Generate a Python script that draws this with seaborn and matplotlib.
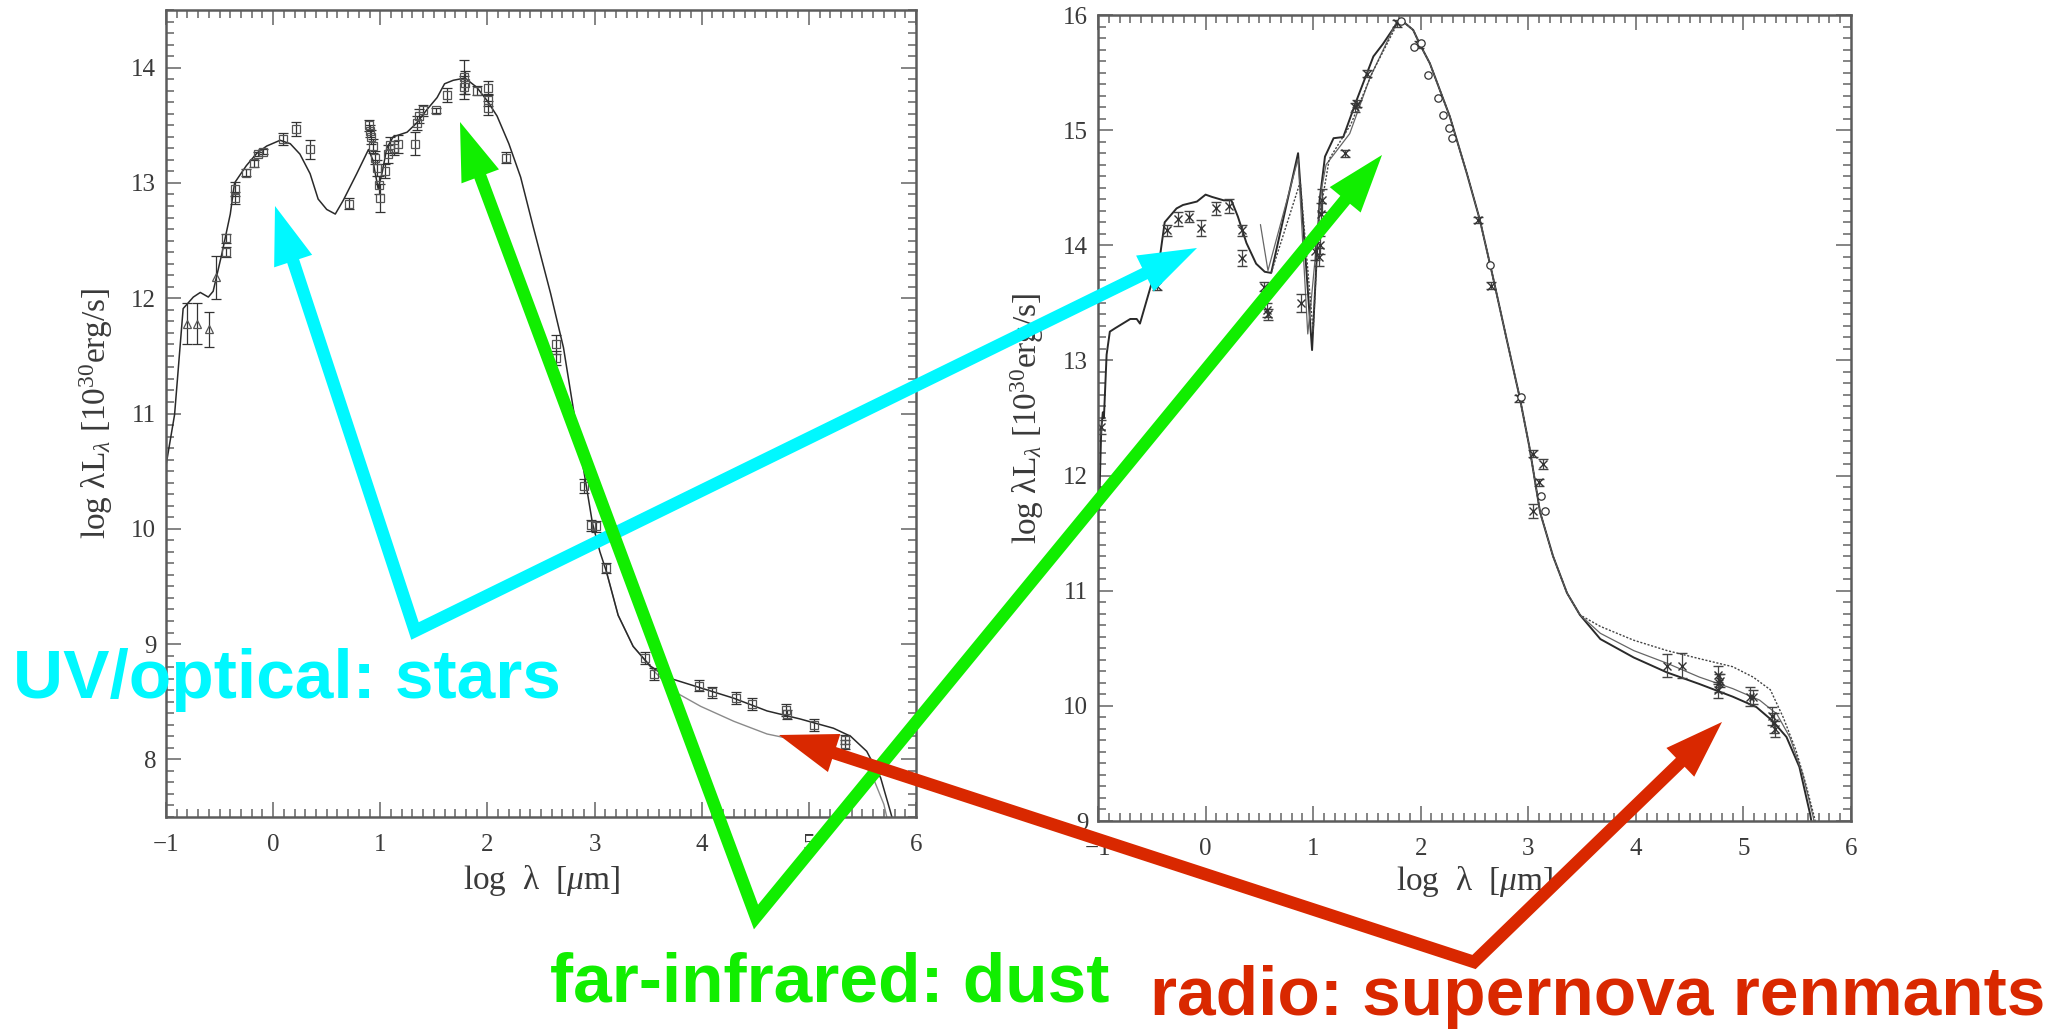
import matplotlib
matplotlib.use("Agg")
import matplotlib.pyplot as plt
from matplotlib.ticker import MultipleLocator
from matplotlib.patches import Polygon
from matplotlib.lines import Line2D
import numpy as np
import pandas as pd
import seaborn as sns

sns.set_style("ticks")
plt.rcParams["font.family"] = ["Liberation Serif", "DejaVu Serif"]
plt.rcParams["mathtext.fontset"] = "custom"
plt.rcParams["mathtext.rm"] = "Liberation Serif"
plt.rcParams["mathtext.it"] = "Liberation Serif:italic"
plt.rcParams["mathtext.bf"] = "Liberation Serif:bold"

# ---------------- left galaxy: model SED ----------------
left_model_x = [-1.0, -0.92, -0.84, -0.745, -0.68, -0.605, -0.56, -0.48, -0.40, -0.36, -0.25,
                -0.15, -0.06, 0.065, 0.16, 0.25, 0.345, 0.42, 0.50, 0.58, 0.655, 0.78, 0.89,
                0.93, 0.98, 1.02, 1.06, 1.12, 1.25, 1.34, 1.43, 1.53, 1.60, 1.68, 1.79, 1.90,
                2.0, 2.09, 2.20, 2.31, 2.43, 2.59, 2.71, 2.80, 2.90, 2.98, 3.05, 3.11, 3.22,
                3.36, 3.52, 3.68, 3.99, 4.30, 4.61, 4.92, 5.23, 5.39, 5.54, 5.67, 5.76, 5.79]
left_model_y = [10.55, 10.99, 11.91, 12.01, 12.05, 12.01, 12.06, 12.38, 12.73, 13.00, 13.15,
                13.26, 13.32, 13.37, 13.34, 13.25, 13.08, 12.86, 12.77, 12.73, 12.85, 13.08, 13.29,
                13.20, 12.95, 13.10, 13.30, 13.40, 13.44, 13.52, 13.63, 13.74, 13.86, 13.89, 13.91, 13.83,
                13.71, 13.58, 13.34, 13.05, 12.61, 12.04, 11.57, 11.05, 10.50, 10.05, 9.80, 9.63, 9.25,
                8.98, 8.81, 8.71, 8.62, 8.53, 8.42, 8.35, 8.27, 8.20, 8.07, 7.84, 7.55, 7.45]
# second model, diverging in the radio
left_alt_x = [3.11, 3.22, 3.36, 3.55, 3.74, 3.99, 4.30, 4.61, 4.92, 5.23, 5.48, 5.60, 5.70, 5.74]
left_alt_y = [9.63, 9.25, 8.98, 8.77, 8.59, 8.46, 8.33, 8.22, 8.16, 8.10, 8.01, 7.84, 7.61, 7.45]

# photometry (squares) and UV points (triangles)
left_sq_x = [-0.44, -0.44, -0.36, -0.36, -0.25, -0.18, -0.14, -0.09, 0.095, 0.21, 0.345, 0.71,
             0.89, 0.90, 0.91, 0.93, 0.95, 0.97, 0.99, 1.00, 1.04, 1.07, 1.09, 1.13, 1.17, 1.32,
             1.34, 1.36, 1.40, 1.52, 1.62, 1.78, 1.78, 1.79, 1.90, 2.01, 2.01, 2.01, 2.17, 2.64,
             2.64, 2.90, 2.97, 3.01, 3.11, 3.47, 3.55, 3.97, 4.10, 4.32, 4.47, 4.79, 4.80, 5.05,
             5.34, 5.34]
left_sq_y = [12.52, 12.40, 12.95, 12.87, 13.09, 13.17, 13.25, 13.27, 13.38, 13.47, 13.29, 12.82,
             13.50, 13.45, 13.40, 13.32, 13.22, 13.13, 12.98, 12.87, 13.10, 13.25, 13.33, 13.30, 13.34, 13.34,
             13.52, 13.58, 13.63, 13.63, 13.76, 13.92, 13.83, 13.87, 13.80, 13.82, 13.72, 13.65, 13.22, 11.60,
             11.48, 10.37, 10.03, 10.02, 9.66, 8.88, 8.74, 8.64, 8.58, 8.53, 8.48, 8.43, 8.39, 8.30,
             8.17, 8.13]
left_sq_err = [0.04, 0.04, 0.06, 0.05, 0.03, 0.03, 0.02, 0.02, 0.05, 0.06, 0.08, 0.05,
               0.05, 0.05, 0.06, 0.06, 0.06, 0.07, 0.08, 0.12, 0.06, 0.08, 0.07, 0.06, 0.08, 0.10,
               0.06, 0.06, 0.05, 0.02, 0.06, 0.15, 0.10, 0.10, 0.04, 0.06, 0.05, 0.06, 0.05, 0.08,
               0.06, 0.06, 0.05, 0.05, 0.04, 0.05, 0.05, 0.05, 0.05, 0.05, 0.05, 0.05, 0.04, 0.05,
               0.04, 0.04]
left_tri_x = [-0.80, -0.71, -0.60, -0.53]
left_tri_y = [11.78, 11.78, 11.73, 12.18]
left_tri_err = [0.18, 0.18, 0.15, 0.19]

# ---------------- right galaxy: three model SEDs ----------------
right_uv_x = [-0.99, -0.97, -0.955, -0.945, -0.92, -0.89, -0.84, -0.77, -0.70, -0.64, -0.61,
              -0.52, -0.42, -0.38, -0.27, -0.21, -0.08, 0.0, 0.06, 0.17, 0.24, 0.30, 0.38,
              0.47, 0.55, 0.61]
right_uv_y = [11.70, 12.40, 12.55, 12.50, 13.05, 13.25, 13.28, 13.32, 13.36, 13.36, 13.32,
              13.61, 13.93, 14.20, 14.32, 14.35, 14.38, 14.44, 14.42, 14.39, 14.39, 14.25, 14.02,
              13.84, 13.77, 13.76]
right_mir_a_x = [0.61, 0.86, 0.99, 1.06, 1.11, 1.19, 1.28, 1.40, 1.56, 1.65, 1.78, 1.84]
right_mir_a_y = [13.76, 14.80, 13.09, 14.39, 14.77, 14.93, 14.94, 15.25, 15.64, 15.75, 15.93, 15.94]
right_mir_b_x = [0.51, 0.58, 0.86, 0.95, 0.98, 1.08, 1.12, 1.34, 1.53, 1.78, 1.84]
right_mir_b_y = [14.18, 13.78, 14.75, 13.23, 13.50, 14.50, 14.70, 14.97, 15.46, 15.95, 15.94]
right_mir_c_x = [0.61, 0.88, 1.00, 1.05, 1.15, 1.35, 1.55, 1.78, 1.84]
right_mir_c_y = [13.76, 14.55, 13.25, 14.20, 14.75, 15.05, 15.50, 15.92, 15.94]
right_fir_x = [1.84, 1.93, 1.99, 2.085, 2.27, 2.43, 2.55, 2.67, 2.80, 2.92, 3.01, 3.11,
               3.23, 3.36, 3.48]
right_fir_y = [15.94, 15.87, 15.75, 15.58, 15.12, 14.62, 14.22, 13.73, 13.18, 12.68, 12.25, 11.68,
               11.30, 10.98, 10.79]
right_radio_a_x = [3.48, 3.67, 3.98, 4.29, 4.59, 4.90, 5.12, 5.27, 5.40, 5.52, 5.62, 5.65]
right_radio_a_y = [10.79, 10.58, 10.42, 10.29, 10.19, 10.08, 9.99, 9.87, 9.73, 9.47, 9.06, 8.90]
right_radio_b_x = [3.48, 3.67, 3.98, 4.29, 4.59, 4.90, 5.15, 5.31, 5.43, 5.55, 5.65, 5.67]
right_radio_b_y = [10.79, 10.63, 10.48, 10.37, 10.25, 10.15, 10.05, 9.93, 9.73, 9.41, 9.03, 8.90]
right_radio_c_x = [3.48, 3.67, 3.98, 4.29, 4.59, 4.90, 5.09, 5.25, 5.37, 5.49, 5.58, 5.66, 5.69]
right_radio_c_y = [10.80, 10.69, 10.57, 10.48, 10.41, 10.34, 10.25, 10.14, 9.90, 9.61, 9.32, 9.03, 8.90]

# observed fluxes (crosses with errors) and far-IR points (open circles)
right_obs_x = [-0.97, -0.455, -0.36, -0.255, -0.155, -0.04, 0.10, 0.22, 0.34, 0.335, 0.54, 0.57,
               0.58, 0.89, 1.02, 1.05, 1.06, 1.07, 1.08, 1.30, 1.39, 1.41, 1.50, 1.78, 1.98,
               2.53, 2.65, 2.91, 3.04, 3.10, 3.14, 3.04, 4.29, 4.43, 4.76, 4.77, 4.76, 4.78,
               5.06, 5.09, 5.27, 5.28, 5.29]
right_obs_y = [12.42, 13.65, 14.13, 14.23, 14.25, 14.15, 14.32, 14.34, 14.13, 13.89, 13.64, 13.44,
               13.40, 13.50, 13.95, 13.90, 14.00, 14.27, 14.39, 14.80, 15.20, 15.23, 15.49, 15.93, 15.74,
               14.22, 13.65, 12.67, 12.19, 11.94, 12.10, 11.69, 10.35, 10.35, 10.27, 10.20, 10.14, 10.22,
               10.08, 10.08, 9.91, 9.85, 9.80]
right_obs_err = [0.06, 0.04, 0.05, 0.06, 0.05, 0.07, 0.06, 0.06, 0.05, 0.07, 0.04, 0.06,
                 0.05, 0.08, 0.08, 0.08, 0.08, 0.10, 0.10, 0.03, 0.04, 0.03, 0.03, 0.03, 0.03,
                 0.03, 0.03, 0.03, 0.03, 0.03, 0.04, 0.06, 0.10, 0.11, 0.08, 0.08, 0.07, 0.06,
                 0.08, 0.06, 0.08, 0.09, 0.07]
right_circ_x = [1.82, 1.94, 2.00, 2.07, 2.16, 2.21, 2.26, 2.29, 2.64, 2.93, 3.12, 3.16]
right_circ_y = [15.95, 15.72, 15.76, 15.48, 15.28, 15.13, 15.02, 14.93, 13.83, 12.68, 11.82, 11.69]

x_ticks = [-1, 0, 1, 2, 3, 4, 5, 6]
left_yticks = [8, 9, 10, 11, 12, 13, 14]
right_yticks = [9, 10, 11, 12, 13, 14, 15, 16]
xlabel = r"log  λ  [$\mu$m]"
ylabel = r"log λL$_\lambda$ [10$^{30}$erg/s]"

# ---------------- annotation arrows (figure pixels, y downward) ----------------
cyan_path = [(275, 206), (415, 631), (1197, 248)]
green_path = [(460, 122), (756, 917), (1382, 155)]
red_path = [(779, 735), (1474, 962), (1722, 722)]
labels = [("UV/optical: stars", 13, 698, "#00F8FF"),
          ("far-infrared: dust", 550, 1001, "#11EE00"),
          ("radio: supernova renmants", 1150, 1015, "#D92800")]

INK = "#2a2a2a"
FRAME = "#5c5c5c"
TEXT = "#3a3a3a"

W, H = 2054, 1036
fig = plt.figure(figsize=(W / 100, H / 100), dpi=100)
fig.patch.set_facecolor("white")


def px_axes(left, top, right, bottom):
    return fig.add_axes([left / W, 1 - bottom / H, (right - left) / W, (bottom - top) / H])


def curve(ax, x, y, color=INK, lw=1.1, ls="-"):
    df = pd.DataFrame({"x": x, "y": y})
    sns.lineplot(data=df, x="x", y="y", ax=ax, color=color, lw=lw, linestyle=ls,
                 sort=False, estimator=None, legend=False)


def style(ax, ylim, yticks):
    ax.set_xlim(-1, 6)
    ax.set_ylim(*ylim)
    ax.set_xticks(x_ticks)
    ax.set_yticks(yticks)
    ax.xaxis.set_minor_locator(MultipleLocator(0.1))
    ax.yaxis.set_minor_locator(MultipleLocator(0.1))
    ax.tick_params(which="both", direction="in", top=True, right=True,
                   color="#707070", width=1.2, labelsize=18, labelcolor=TEXT)
    ax.tick_params(which="major", length=11)
    ax.tick_params(which="minor", length=6)
    ax.tick_params(axis="x", which="major", pad=12)
    ax.tick_params(axis="y", which="major", pad=7)
    for s in ax.spines.values():
        s.set_color(FRAME)
        s.set_linewidth(1.8)
    ax.set_xlabel(xlabel, fontsize=24, color=TEXT)
    ax.set_ylabel(ylabel, fontsize=24, color=TEXT)
    ax.xaxis.label.set_verticalalignment("center")
    ax.yaxis.label.set_verticalalignment("center")


# left panel
ax_l = px_axes(166, 10, 916, 817)
curve(ax_l, left_alt_x, left_alt_y, color="#8a8a8a", lw=1.0)
curve(ax_l, left_model_x, left_model_y)
ax_l.errorbar(left_sq_x, left_sq_y, yerr=left_sq_err, fmt="s", ms=5.5, mfc="none", mec="#555",
              mew=0.9, ecolor="#333", elinewidth=0.9, capsize=3.5, capthick=0.9)
ax_l.errorbar(left_tri_x, left_tri_y, yerr=left_tri_err, fmt="^", ms=5.5, mfc="none", mec="#555",
              mew=0.9, ecolor="#333", elinewidth=0.9, capsize=3.5, capthick=0.9)
style(ax_l, (7.5, 14.5), left_yticks)
ax_l.xaxis.set_label_coords(0.5, -0.079)
ax_l.yaxis.set_label_coords(-0.093, 0.5)

# right panel
ax_r = px_axes(1098, 15, 1851, 821)
curve(ax_r, right_uv_x + right_mir_a_x[1:] + right_fir_x[1:] + right_radio_a_x[1:],
      right_uv_y + right_mir_a_y[1:] + right_fir_y[1:] + right_radio_a_y[1:], lw=1.4)
curve(ax_r, right_mir_b_x + right_fir_x[1:] + right_radio_b_x[1:],
      right_mir_b_y + right_fir_y[1:] + right_radio_b_y[1:], color="#666", lw=0.9)
curve(ax_r, right_mir_c_x + right_fir_x[1:] + right_radio_c_x[1:],
      right_mir_c_y + right_fir_y[1:] + right_radio_c_y[1:], color="#444", lw=1.0, ls=(0, (1.5, 1.2)))
ax_r.errorbar(right_obs_x, right_obs_y, yerr=right_obs_err, fmt="x", ms=5.5, mec="#333",
              mew=1.0, ecolor="#444", elinewidth=0.9, capsize=3.5, capthick=0.9)
sns.scatterplot(x=right_circ_x, y=right_circ_y, ax=ax_r, marker="o", s=28,
                color="white", edgecolor="#333", linewidth=0.9, zorder=3)
style(ax_r, (9, 16), right_yticks)
ax_r.xaxis.set_label_coords(0.5, -0.075)
ax_r.yaxis.set_label_coords(-0.094, 0.5)

# overlay with arrows and captions
ov = fig.add_axes([0, 0, 1, 1], zorder=10)
ov.set_xlim(0, W)
ov.set_ylim(H, 0)
ov.axis("off")
ov.patch.set_alpha(0)


def arrow(path, color):
    pts = np.asarray(path, float)
    head_len, head_half = 58.0, 20.0
    shaft = pts.copy()
    for tip_i, prev_i in ((0, 1), (-1, -2)):
        tip = pts[tip_i]
        d = tip - pts[prev_i]
        d /= np.hypot(*d)
        n = np.array([-d[1], d[0]])
        base = tip - head_len * d
        ov.add_patch(Polygon([tip, base + head_half * n, base - head_half * n],
                             closed=True, fc=color, ec="none"))
        shaft[tip_i] = tip - 0.8 * head_len * d
    ov.add_line(Line2D(shaft[:, 0], shaft[:, 1], color=color, lw=9,
                       solid_joinstyle="miter", solid_capstyle="butt"))


arrow(cyan_path, labels[0][3])
arrow(green_path, labels[1][3])
arrow(red_path, labels[2][3])
for txt, x, y, c in labels:
    ov.text(x, y, txt, color=c, fontsize=50, fontweight="bold",
            family=["Liberation Sans", "DejaVu Sans"], ha="left", va="baseline")

fig.savefig("out.png", dpi=100, facecolor="white")
